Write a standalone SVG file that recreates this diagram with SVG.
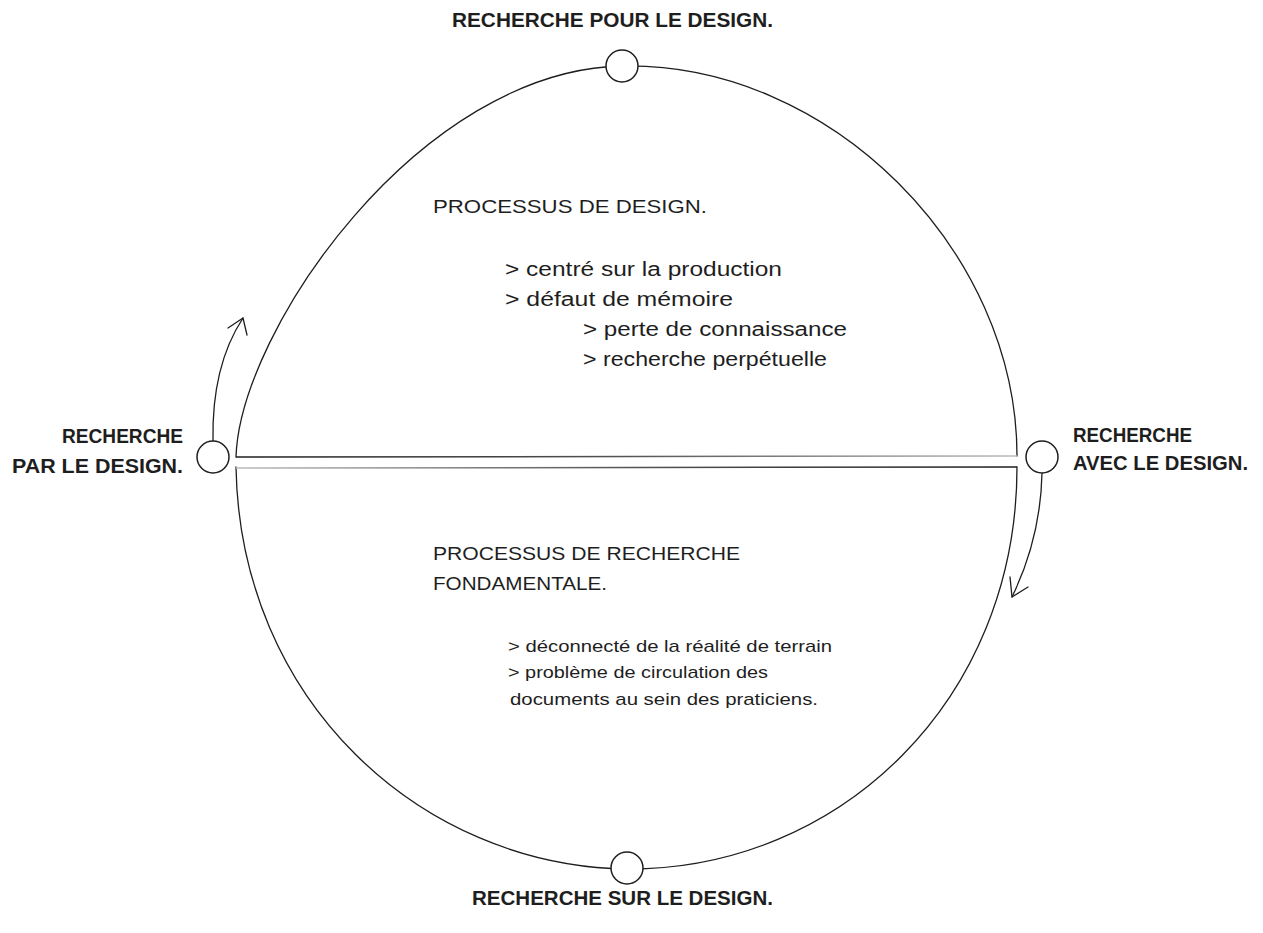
<svg xmlns="http://www.w3.org/2000/svg" width="1263" height="933" viewBox="0 0 1263 933">
<style>
.stroke{fill:none;stroke:#1e1e1e;stroke-width:1.3;stroke-linecap:round;stroke-linejoin:round}
.node{fill:#fff;stroke:#1e1e1e;stroke-width:1.5}
.lbl{font-family:"Liberation Sans",Arial,sans-serif;font-weight:bold;font-size:21px;fill:#1e1e1e}
.hd{font-family:"Liberation Sans",Arial,sans-serif;font-size:19px;fill:#1e1e1e}
.b1{font-family:"Liberation Sans",Arial,sans-serif;font-size:20px;fill:#1e1e1e}
.b2{font-family:"Liberation Sans",Arial,sans-serif;font-size:17px;fill:#1e1e1e}
</style>
<defs>
<linearGradient id="gA" gradientUnits="userSpaceOnUse" x1="236" y1="0" x2="1017" y2="0">
<stop offset="0" stop-color="#1e1e1e"/><stop offset="0.5" stop-color="#555"/><stop offset="1" stop-color="#bbb"/>
</linearGradient>
<linearGradient id="gB" gradientUnits="userSpaceOnUse" x1="236" y1="0" x2="1017" y2="0">
<stop offset="0" stop-color="#bbb"/><stop offset="0.5" stop-color="#555"/><stop offset="1" stop-color="#1e1e1e"/>
</linearGradient>
</defs>
<rect width="1263" height="933" fill="#fff"/>
<g id="shapes">
<path id="upper" class="stroke" d="M236,457 C240,330 420,70 622,66 C830,62 1017,250 1017,456"/>
<line x1="236" y1="457" x2="1017" y2="456" stroke="url(#gA)" stroke-width="1.5"/>
<path id="lower" class="stroke" d="M236,467 C240,700 420,866 627,869 C840,870 1017,700 1017,467"/>
<line x1="236" y1="468" x2="1017" y2="467" stroke="url(#gB)" stroke-width="1.5"/>
</g>
<g id="connectors">
<path class="stroke" d="M213,441 C212,390 222,350 243,318"/>
<polyline class="stroke" points="228,328 243,318 247,335"/>
<path class="stroke" d="M1042,473 C1041,520 1030,560 1012,597"/>
<polyline class="stroke" points="1010,577 1012,597 1028,587"/>
</g>
<g id="node-top">
<circle class="node" cx="622" cy="66" r="16"/>
<text class="lbl" x="452" y="27" textLength="321" lengthAdjust="spacingAndGlyphs">RECHERCHE POUR LE DESIGN.</text>
</g>
<g id="node-bottom">
<circle class="node" cx="627" cy="868" r="16"/>
<text class="lbl" x="472" y="905" textLength="301" lengthAdjust="spacingAndGlyphs">RECHERCHE SUR LE DESIGN.</text>
</g>
<g id="node-left">
<circle class="node" cx="213" cy="457" r="16"/>
<text class="lbl" x="62" y="443" textLength="121" lengthAdjust="spacingAndGlyphs">RECHERCHE</text>
<text class="lbl" x="12" y="473" textLength="171" lengthAdjust="spacingAndGlyphs">PAR LE DESIGN.</text>
</g>
<g id="node-right">
<circle class="node" cx="1042" cy="457" r="16"/>
<text class="lbl" x="1073" y="442" textLength="119" lengthAdjust="spacingAndGlyphs">RECHERCHE</text>
<text class="lbl" x="1073" y="470" textLength="175" lengthAdjust="spacingAndGlyphs">AVEC LE DESIGN.</text>
</g>
<g id="design-process">
<text class="hd" x="433" y="213" textLength="274" lengthAdjust="spacingAndGlyphs">PROCESSUS DE DESIGN.</text>
<text class="b1" x="505" y="276" textLength="277" lengthAdjust="spacingAndGlyphs">&gt; centré sur la production</text>
<text class="b1" x="505" y="306" textLength="228" lengthAdjust="spacingAndGlyphs">&gt; défaut de mémoire</text>
<text class="b1" x="583" y="336" textLength="264" lengthAdjust="spacingAndGlyphs">&gt; perte de connaissance</text>
<text class="b1" x="583" y="366" textLength="244" lengthAdjust="spacingAndGlyphs">&gt; recherche perpétuelle</text>
</g>
<g id="research-process">
<text class="hd" x="433" y="560" textLength="307" lengthAdjust="spacingAndGlyphs">PROCESSUS DE RECHERCHE</text>
<text class="hd" x="433" y="590" textLength="174" lengthAdjust="spacingAndGlyphs">FONDAMENTALE.</text>
<text class="b2" x="508" y="652" textLength="324" lengthAdjust="spacingAndGlyphs">&gt; déconnecté de la réalité de terrain</text>
<text class="b2" x="508" y="678" textLength="260" lengthAdjust="spacingAndGlyphs">&gt; problème de circulation des</text>
<text class="b2" x="510" y="705" textLength="308" lengthAdjust="spacingAndGlyphs">documents au sein des praticiens.</text>
</g>
</svg>
